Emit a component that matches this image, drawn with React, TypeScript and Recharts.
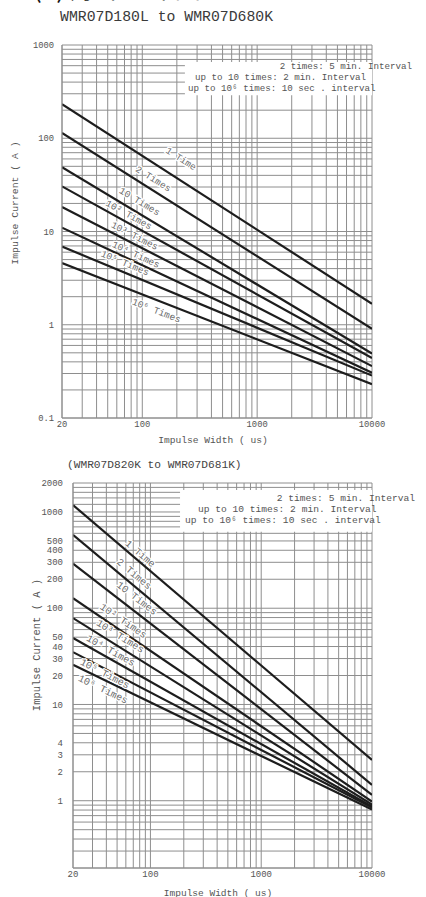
import { CartesianGrid, Line, LineChart, ReferenceArea, ReferenceDot, XAxis, YAxis } from "recharts"

// impulse width (us) at both ends of each derating line
const widths = [20, 10000]
const lineNames = ["1 Time", "2 Times", "10 Times", "10² Times", "10³ Times", "10⁴ Times", "10⁵ Times", "10⁶ Times"]

// WMR07D180L to WMR07D680K, impulse current (A)
const upperAt20 = [232, 114, 49, 30.5, 18.3, 11.0, 6.9, 4.6]
const upperAt10000 = [1.68, 0.905, 0.49, 0.44, 0.36, 0.305, 0.285, 0.23]

// WMR07D820K to WMR07D681K, impulse current (A)
const lowerAt20 = [1180, 580, 291, 127, 79, 49, 35, 25.8]
const lowerAt10000 = [2.65, 1.46, 1.15, 0.98, 0.91, 0.87, 0.85, 0.81]

const xLabelTicks = [20, 100, 1000, 10000]
const upperYLabelTicks = [0.1, 1, 10, 100, 1000]
const lowerYLabelTicks = [1, 2, 3, 4, 10, 20, 30, 40, 50, 100, 200, 300, 400, 500, 1000, 2000]
const lowerYExtraGrid = [1200, 1400, 1600, 1800]

const intervalNotes = [
  "2 times: 5 min. Interval",
  "up to 10  times: 2 min. Interval",
  "up to 10⁶ times: 10 sec . interval",
]

// where each line label sits: x in us, offset in px (positive = above the line)
const upperLabelSpots = [
  { at: 178, offset: 18 },
  { at: 112, offset: 9.5 },
  { at: 85, offset: 10 },
  { at: 71, offset: 7 },
  { at: 80, offset: 7 },
  { at: 83, offset: 6.5 },
  { at: 66, offset: 8.5 },
  { at: 143, offset: -10.5 },
]
const lowerLabelSpots = [
  { at: 74, offset: 6 },
  { at: 63, offset: 8.5 },
  { at: 65, offset: 11 },
  { at: 51, offset: 9 },
  { at: 48, offset: 9 },
  { at: 40.5, offset: 7 },
  { at: 40.5, offset: -5 },
  { at: 40.5, offset: -9.5 },
]

const MONO = "'Liberation Mono', 'DejaVu Sans Mono', monospace"
const GRID = "#8e8e8e"
const TEXT = "#555"

function logGrid(from: number, to: number) {
  const out: number[] = []
  let d = Math.pow(10, Math.floor(Math.log10(from) + 1e-9))
  while (d < to) {
    for (let m = 1; m < 10; m++) {
      const v = Number((m * d).toPrecision(6))
      if (v >= from && v <= to) out.push(v)
    }
    d = Number((d * 10).toPrecision(6))
  }
  if (!out.includes(to)) out.push(to)
  return out
}

const near = (list: number[], v: number) => list.some((t) => Math.abs(t - v) / t < 1e-6)

type Spot = { at: number; offset: number }

function LifePanel({
  top,
  height,
  yAxisWidth,
  marginTop,
  marginBottom,
  yDomain,
  yLabels,
  extraGrid,
  startVals,
  endVals,
  spots,
  box,
  labelFont,
  tickFont,
  yTickMargin,
}: {
  top: number
  height: number
  yAxisWidth: number
  marginTop: number
  marginBottom: number
  yDomain: [number, number]
  yLabels: number[]
  extraGrid: number[]
  startVals: number[]
  endVals: number[]
  spots: Spot[]
  box: { x1: number; x2: number; y1: number; y2: number }
  labelFont: number
  tickFont: number
  yTickMargin: number
}) {
  const xAxisH = 16
  const plotW = 426 - yAxisWidth - 54
  const plotH = height - marginTop - marginBottom - xAxisH
  const rows = widths.map((w, i) => {
    const r: Record<string, number> = { w }
    lineNames.forEach((_, k) => {
      r["s" + k] = (i === 0 ? startVals : endVals)[k]
    })
    return r
  })
  const xTicks = logGrid(widths[0], widths[1])
  const yTicks = [...logGrid(yDomain[0], yDomain[1]), ...extraGrid].sort((a, b) => a - b)
  const spanX = Math.log10(widths[1] / widths[0])
  const spanY = Math.log10(yDomain[1] / yDomain[0])

  return (
    <div style={{ position: "absolute", left: 0, top, width: 426, height }}>
      <LineChart
        width={426}
        height={height}
        data={rows}
        margin={{ top: marginTop, right: 54, bottom: marginBottom, left: 0 }}
      >
        <CartesianGrid stroke={GRID} strokeWidth={1} />
        <XAxis
          dataKey="w"
          type="number"
          scale="log"
          domain={widths}
          ticks={xTicks}
          interval={0}
          height={xAxisH}
          tickSize={0}
          tickMargin={3}
          stroke={GRID}
          tick={{ fontSize: tickFont, fill: TEXT, fontFamily: MONO }}
          tickFormatter={(v: number) => (near(xLabelTicks, v) ? String(v) : "")}
          allowDataOverflow
        />
        <YAxis
          type="number"
          scale="log"
          domain={yDomain}
          ticks={yTicks}
          interval={0}
          width={yAxisWidth}
          tickSize={0}
          tickMargin={yTickMargin}
          stroke={GRID}
          tick={{ fontSize: tickFont, fill: TEXT, fontFamily: MONO }}
          tickFormatter={(v: number) => (near(yLabels, v) ? String(v) : "")}
          allowDataOverflow
        />
        <ReferenceArea x1={box.x1} x2={box.x2} y1={box.y1} y2={box.y2} fill="#fff" fillOpacity={1} stroke="none" />
        {lineNames.map((n, k) => (
          <Line
            key={n}
            dataKey={"s" + k}
            name={n}
            type="linear"
            stroke="#1d1d1d"
            strokeWidth={2.2}
            dot={false}
            isAnimationActive={false}
          />
        ))}
        {spots.map((sp, k) => {
          const s = startVals[k]
          const e = endVals[k]
          const t = Math.log10(sp.at / widths[0]) / spanX
          const yv = Math.pow(10, Math.log10(s) + t * Math.log10(e / s))
          const dy = (Math.log10(s / e) / spanY) * plotH
          const ang = Math.atan2(dy, plotW)
          const deg = (ang * 180) / Math.PI
          return (
            <ReferenceDot
              key={"lbl" + k}
              x={sp.at}
              y={yv}
              r={1}
              shape={(p: any) => {
                const tx = p.cx + sp.offset * Math.sin(ang)
                const ty = p.cy - sp.offset * Math.cos(ang)
                return (
                  <text
                    x={tx}
                    y={ty}
                    transform={`rotate(${deg} ${tx} ${ty})`}
                    textAnchor="middle"
                    dominantBaseline="central"
                    fontSize={labelFont}
                    fontFamily={MONO}
                    fill="#6a6a6a"
                    stroke="#fff"
                    strokeWidth={2.5}
                    paintOrder="stroke"
                  >
                    {lineNames[k]}
                  </text>
                )
              }}
            />
          )
        })}
      </LineChart>
    </div>
  )
}

export default function App() {
  return (
    <div
      style={{
        position: "absolute",
        left: 0,
        top: 0,
        width: 426,
        height: 897,
        background: "#fff",
        overflow: "hidden",
        fontFamily: MONO,
      }}
    >
      <LifePanel
        top={0}
        height={440}
        yAxisWidth={62}
        marginTop={45}
        marginBottom={6}
        yDomain={[0.1, 1000]}
        yLabels={upperYLabelTicks}
        extraGrid={[]}
        startVals={upperAt20}
        endVals={upperAt10000}
        spots={upperLabelSpots}
        box={{ x1: 235, x2: 10000, y1: 290, y2: 656 }}
        labelFont={9.5}
        tickFont={8.8}
        yTickMargin={8}
      />
      <LifePanel
        top={440}
        height={457}
        yAxisWidth={73}
        marginTop={43}
        marginBottom={13}
        yDomain={[0.2, 2000]}
        yLabels={lowerYLabelTicks}
        extraGrid={lowerYExtraGrid}
        startVals={lowerAt20}
        endVals={lowerAt10000}
        spots={lowerLabelSpots}
        box={{ x1: 185, x2: 10000, y1: 622, y2: 1690 }}
        labelFont={10}
        tickFont={9}
        yTickMargin={10}
      />
      <svg
        width={426}
        height={897}
        style={{ position: "absolute", left: 0, top: 0, pointerEvents: "none" }}
      >
        <text x={33} y={-2} fontSize={26} fontFamily="'Noto Sans CJK SC'" fill="#111">
          (1) 脉冲寿命图
        </text>
        <text x={60} y={17} dominantBaseline="central" fontSize={14.8} fill="#3a3a3a">
          WMR07D180L to WMR07D680K
        </text>
        <text x={412} y={66} textAnchor="end" dominantBaseline="central" fontSize={9.2} fill={TEXT}>
          {intervalNotes[0]}
        </text>
        <text x={195} y={77} dominantBaseline="central" fontSize={9.2} fill={TEXT}>
          {intervalNotes[1]}
        </text>
        <text x={188} y={88} dominantBaseline="central" fontSize={9.2} fill={TEXT}>
          {intervalNotes[2]}
        </text>
        <text
          x={15}
          y={203}
          transform="rotate(-90 15 203)"
          textAnchor="middle"
          dominantBaseline="central"
          fontSize={9.8}
          fill={TEXT}
        >
          Impulse Current ( A )
        </text>
        <text x={213} y={440} textAnchor="middle" dominantBaseline="central" fontSize={9.6} fill={TEXT}>
          Impulse Width ( us)
        </text>

        <text x={67} y={465} dominantBaseline="central" fontSize={11.2} fill="#444">
          (WMR07D820K to WMR07D681K)
        </text>
        <text x={415} y={498} textAnchor="end" dominantBaseline="central" fontSize={9.6} fill={TEXT}>
          {intervalNotes[0]}
        </text>
        <text x={198} y={509} dominantBaseline="central" fontSize={9.6} fill={TEXT}>
          {intervalNotes[1]}
        </text>
        <text x={185} y={520} dominantBaseline="central" fontSize={9.6} fill={TEXT}>
          {intervalNotes[2]}
        </text>
        <text
          x={37}
          y={645}
          transform="rotate(-90 37 645)"
          textAnchor="middle"
          dominantBaseline="central"
          fontSize={10.5}
          fill={TEXT}
        >
          Impulse Current ( A )
        </text>
        <text x={218} y={893} textAnchor="middle" dominantBaseline="central" fontSize={9.5} fill={TEXT}>
          Impulse Width ( us)
        </text>
      </svg>
    </div>
  )
}
